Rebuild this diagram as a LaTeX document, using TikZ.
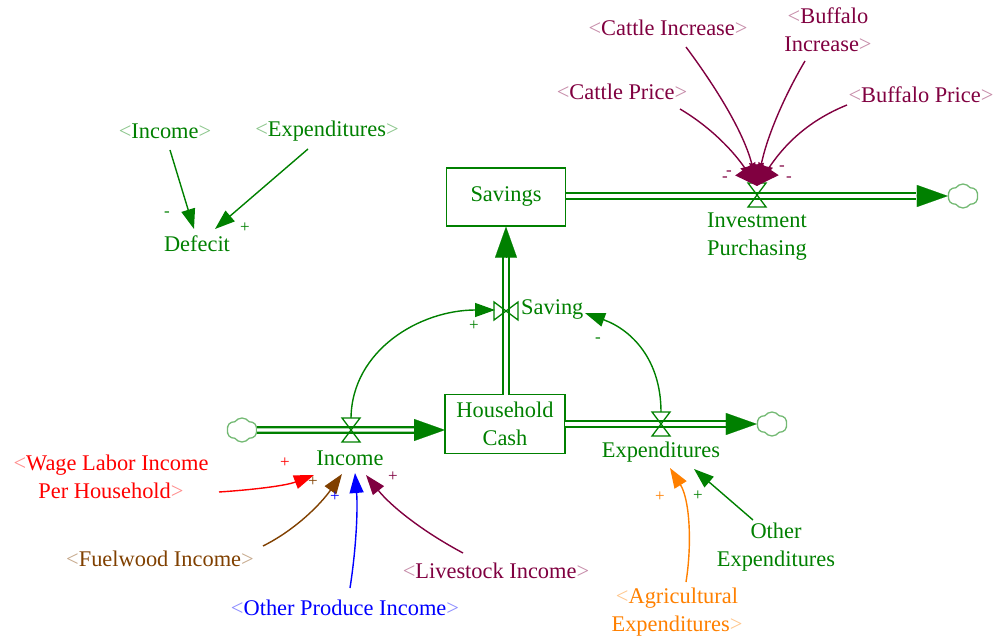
\documentclass[tikz,border=0pt]{standalone}
\usepackage{fontspec}
\setmainfont{Liberation Serif}
\usetikzlibrary{arrows.meta,shapes.symbols}
\definecolor{vgreen}{RGB}{0,128,0}
\definecolor{vmaroon}{RGB}{128,0,64}
\definecolor{vred}{RGB}{255,0,0}
\definecolor{vbrown}{RGB}{128,64,0}
\definecolor{vblue}{RGB}{0,0,255}
\definecolor{vorange}{RGB}{255,128,0}
% shadow variable: angle brackets in a paler tint of the text colour
\newcommand\lt[1]{\textcolor{#1!45}{<}}
\newcommand\gt[1]{\textcolor{#1!45}{>}}
\begin{document}
\begin{tikzpicture}[x=1pt,y=-1pt,
  lbl/.style={font=\fontsize{22.4}{28}\selectfont, inner sep=0pt, align=center},
  sgn/.style={font=\fontsize{17}{17}\selectfont, inner sep=0pt},
  stock/.style={draw=vgreen, line width=1.3pt, text=vgreen, lbl, minimum width=119pt, minimum height=58pt},
  pipe/.style={draw=vgreen, line width=2.2pt, double=white, double distance=3.4pt},
  pipehead/.style={draw=vgreen, fill=vgreen, line width=0.1pt, -{Triangle[length=31pt,width=22pt]}},
  cloudn/.style={cloud, cloud puffs=6, cloud puff arc=110, draw=vgreen!55, line width=1.3pt, minimum width=30pt, minimum height=24pt, inner sep=0pt},
  link/.style={line width=1.4pt, -{Triangle[length=20pt,width=14pt]}},
  fanlink/.style={line width=1.4pt, -{Triangle[length=21pt,width=24pt]}},
  valveV/.pic={\draw[vgreen, line width=1.3pt] (-9,-12) -- (9,-12) -- (-9,12) -- (9,12) -- cycle;}
]
\useasboundingbox (0,0) rectangle (997,639);

% ---------- stocks ----------
\node[stock] (sav) at (506,197) {Savings};
\node[stock, minimum width=120pt, minimum height=59pt] (hc) at (505,424) {Household\\Cash};

% ---------- clouds ----------
\node[cloudn] (clIn)  at (242,430) {};
\node[cloudn] (clExp) at (772,424) {};
\node[cloudn] (clInv) at (963,196) {};

% ---------- flow pipes ----------
\coordinate (inHead) at (415,430);  \coordinate (inEnd) at (445,430);
\draw[pipe] (clIn.east) -- (inHead);
\draw[pipehead] (inHead) -- (inEnd);

\coordinate (exStart) at (565,424); \coordinate (exHead) at (727,424);
\draw[pipe] (exStart) -- (exHead);
\draw[pipehead] (exHead) -- (clExp.west);

\coordinate (svStart) at (506,395); \coordinate (svHead) at (506,256);
\draw[pipe] (svStart) -- (svHead);
\draw[pipehead] (svHead) -- (sav.south);

\coordinate (ivStart) at (566,196); \coordinate (ivHead) at (916,196);
\draw[pipe] (ivStart) -- (ivHead);
\draw[pipehead] (ivHead) -- (clInv.west);

% ---------- valves ----------
\pic at (351,430) {valveV};
\pic at (661,424) {valveV};
\pic at (757,195) {valveV};
\pic[rotate=90] at (506,311) {valveV};

% ---------- flow labels ----------
\node[lbl, text=vgreen] (fIn)  at (350,458) {Income};
\node[lbl, text=vgreen] (fEx)  at (661,452) {Expenditures};
\node[lbl, text=vgreen, anchor=west] (fSv) at (521,310) {Saving};
\node[lbl, text=vgreen] (fIv)  at (757,237) {Investment\\Purchasing};

% ---------- loops into Saving ----------
\coordinate (inTop) at (351,418);  \coordinate (svL) at (495,310);
\draw[link, vgreen] (inTop) .. controls (352,350) and (420,310) .. (svL);
\node[sgn, text=vgreen] (sPlus) at (474,326) {+};
\coordinate (exTop) at (661,412);  \coordinate (svR) at (585,313);
\draw[link, vgreen] (exTop) .. controls (661,360) and (632,330) .. (svR);
\node[sgn, text=vgreen] (sMinus) at (598,340) {-};

% ---------- Defecit ----------
\node[lbl, text=vgreen] (dIn)  at (165,131) {\lt{vgreen}Income\gt{vgreen}};
\node[lbl, text=vgreen] (dEx)  at (327,131) {\lt{vgreen}Expenditures\gt{vgreen}};
\node[lbl, text=vgreen] (def)  at (197,244) {Defecit};
\coordinate (dInS) at (170,150); \coordinate (dInT) at (194,229);
\coordinate (dExS) at (308,149); \coordinate (dExT) at (215,229);
\draw[link, vgreen] (dInS) -- (dInT);
\draw[link, vgreen] (dExS) -- (dExT);
\node[sgn, text=vgreen] (dm) at (167,214) {-};
\node[sgn, text=vgreen] (dp) at (245,228) {+};

% ---------- Investment Purchasing inputs ----------
\node[lbl, text=vmaroon] (cInc) at (668,28) {\lt{vmaroon}Cattle Increase\gt{vmaroon}};
\node[lbl, text=vmaroon] (bInc) at (828,30) {\lt{vmaroon}Buffalo\\Increase\gt{vmaroon}};
\node[lbl, text=vmaroon] (cPr)  at (622,92) {\lt{vmaroon}Cattle Price\gt{vmaroon}};
\node[lbl, text=vmaroon] (bPr)  at (921,95) {\lt{vmaroon}Buffalo Price\gt{vmaroon}};
\coordinate (ivTip) at (757,186);
\coordinate (cPrS) at (680,109);
\coordinate (cIncS) at (686,47);
\coordinate (bIncS) at (805,61);
\coordinate (bPrS) at (847,105);
\draw[fanlink, vmaroon] (cPrS) .. controls (712,128) and (734,152) .. (ivTip);
\draw[fanlink, vmaroon] (cIncS) .. controls (718,90) and (745,135) .. (ivTip);
\draw[fanlink, vmaroon] (bIncS) .. controls (782,100) and (766,140) .. (ivTip);
\draw[fanlink, vmaroon] (bPrS) .. controls (805,122) and (782,148) .. (ivTip);
\node[sgn, text=vmaroon] (m1) at (729,173) {-};
\node[sgn, text=vmaroon] (m2) at (725,179) {-};
\node[sgn, text=vmaroon] (m3) at (782,168) {-};
\node[sgn, text=vmaroon] (m4) at (789,179) {-};

% ---------- Income inputs ----------
\node[lbl, text=vred] (wage) at (111,477) {\lt{vred}Wage Labor Income\\Per Household\gt{vred}};
\node[lbl, text=vbrown] (fuel) at (160,559) {\lt{vbrown}Fuelwood Income\gt{vbrown}};
\node[lbl, text=vblue] (oth) at (345,608) {\lt{vblue}Other Produce Income\gt{vblue}};
\node[lbl, text=vmaroon] (live) at (496,571) {\lt{vmaroon}Livestock Income\gt{vmaroon}};
\coordinate (wS) at (219,492); \coordinate (wT) at (314,475);
\coordinate (fS) at (263,546); \coordinate (fT) at (342,474);
\coordinate (oS) at (350,588); \coordinate (oT) at (355,473);
\coordinate (lS) at (463,553); \coordinate (lT) at (366,475);
\draw[link, vred] (wS) .. controls (250,490) and (285,486) .. (wT);
\draw[link, vbrown] (fS) .. controls (295,530) and (320,505) .. (fT);
\draw[link, vblue] (oS) .. controls (356,550) and (358,510) .. (oT);
\draw[link, vmaroon] (lS) .. controls (420,530) and (390,505) .. (lT);
\node[sgn, text=vred] (p1) at (285,463) {+};
\node[sgn, text=vbrown] (p2) at (313,482) {+};
\node[sgn, text=vblue] (p3) at (335,497) {+};
\node[sgn, text=vmaroon] (p4) at (393,477) {+};

% ---------- Expenditures inputs ----------
\node[lbl, text=vorange] (agr) at (677,612) {\lt{vorange}Agricultural\\Expenditures\gt{vorange}};
\node[lbl, text=vgreen] (oexp) at (776,547) {Other\\Expenditures};
\coordinate (aS) at (686,582); \coordinate (aT) at (670,468);
\coordinate (oeS) at (753,520); \coordinate (oeT) at (694,469);
\draw[link, vorange] (aS) .. controls (692,545) and (690,500) .. (aT);
\draw[link, vgreen] (oeS) -- (oeT);
\node[sgn, text=vorange] (p5) at (660,497) {+};
\node[sgn, text=vgreen] (p6) at (698,496) {+};
\end{tikzpicture}
\end{document}
